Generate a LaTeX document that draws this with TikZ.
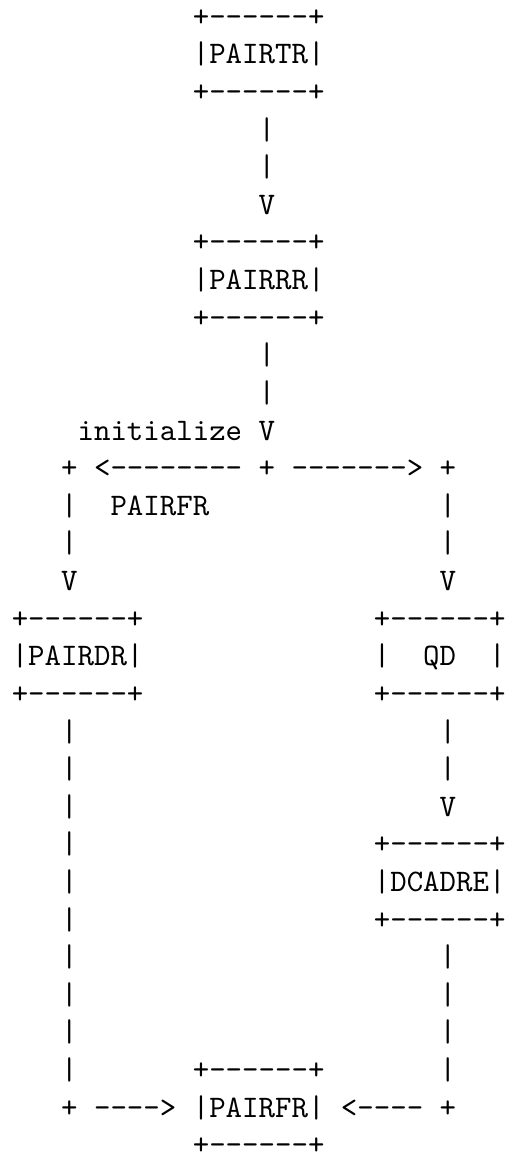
\documentclass[tikz,border=0pt]{standalone}
\usepackage{tikz}

\begin{document}
\begin{tikzpicture}[x=5.25pt, y=-12pt,
  ascii/.style={font=\ttfamily, inner sep=0pt, outer sep=0pt, anchor=base west}]
\useasboundingbox (-0.714,-0.697) rectangle (30.03,30.217);

% PAIRTR
\node[ascii] (tr-top) at (11,0) {+------+};
\node[ascii] (tr)     at (11,1) {|PAIRTR|};
\node[ascii] (tr-bot) at (11,2) {+------+};
\foreach \r in {3,4} \node[ascii] (tr-bar\r) at (15,\r) {|};
\node[ascii] (tr-arr) at (15,5) {V};

% PAIRRR
\node[ascii] (rr-top) at (11,6) {+------+};
\node[ascii] (rr)     at (11,7) {|PAIRRR|};
\node[ascii] (rr-bot) at (11,8) {+------+};
\foreach \r in {9,10} \node[ascii] (rr-bar\r) at (15,\r) {|};
\node[ascii] (init)   at (4,11) {initialize};
\node[ascii] (rr-arr) at (15,11) {V};

% Split
\node[ascii] (split-l)  at (3,12)  {+};
\node[ascii] (split-la) at (5,12)  {<--------};
\node[ascii] (split)    at (15,12) {+};
\node[ascii] (split-ra) at (17,12) {------->};
\node[ascii] (split-r)  at (26,12) {+};
\node[ascii] (fr-lbl)   at (6,13)  {PAIRFR};
\foreach \r in {13,14} {
  \node[ascii] (l-bar\r) at (3,\r)  {|};
  \node[ascii] (r-bar\r) at (26,\r) {|};
}
\node[ascii] (l-arr) at (3,15)  {V};
\node[ascii] (r-arr) at (26,15) {V};

% PAIRDR and QD
\node[ascii] (dr-top) at (0,16)  {+------+};
\node[ascii] (dr)     at (0,17)  {|PAIRDR|};
\node[ascii] (dr-bot) at (0,18)  {+------+};
\node[ascii] (qd-top) at (22,16) {+------+};
\node[ascii] (qd)     at (22,17) {|~~QD~~|};
\node[ascii] (qd-bot) at (22,18) {+------+};

% Left branch
\foreach \r in {19,...,28} \node[ascii] (l-bar\r) at (3,\r) {|};

% Right branch, DCADRE
\foreach \r in {19,20,25,26,27,28} \node[ascii] (r-bar\r) at (26,\r) {|};
\node[ascii] (qd-arr) at (26,21) {V};
\node[ascii] (dc-top) at (22,22) {+------+};
\node[ascii] (dc)     at (22,23) {|DCADRE|};
\node[ascii] (dc-bot) at (22,24) {+------+};

% Join into PAIRFR
\node[ascii] (join-l)  at (3,29)  {+};
\node[ascii] (join-la) at (5,29)  {---->};
\node[ascii] (fr-top)  at (11,28) {+------+};
\node[ascii] (fr)      at (11,29) {|PAIRFR|};
\node[ascii] (fr-bot)  at (11,30) {+------+};
\node[ascii] (join-ra) at (20,29) {<----};
\node[ascii] (join-r)  at (26,29) {+};
\end{tikzpicture}
\end{document}
